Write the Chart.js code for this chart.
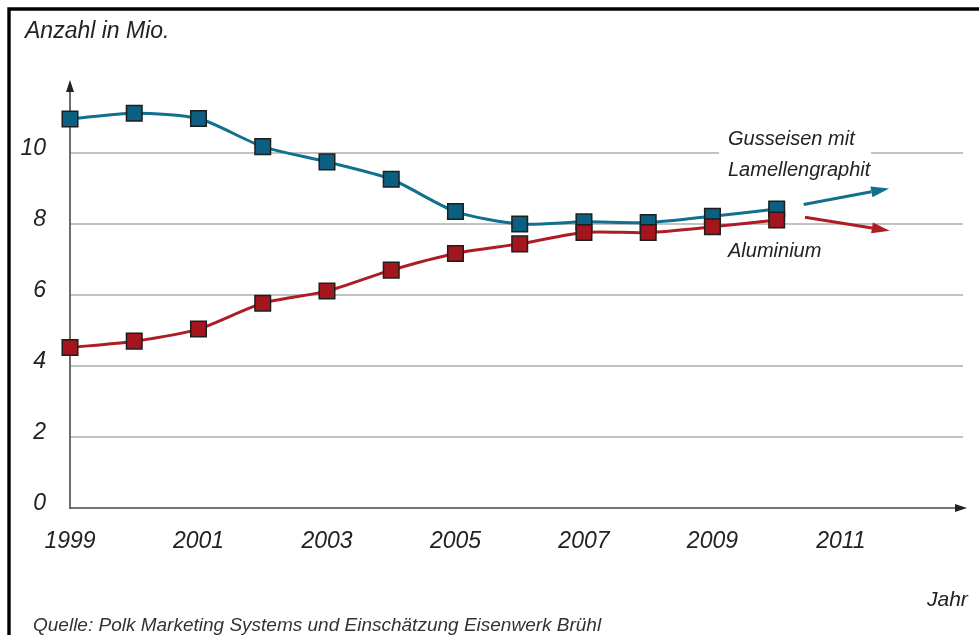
<!DOCTYPE html>
<html>
<head>
<meta charset="utf-8">
<script src="https://cdn.jsdelivr.net/npm/chart.js@4.4.1/dist/chart.umd.min.js"></script>
<style>
  html, body { margin: 0; padding: 0; background: #fff; }
  #wrap { width: 979px; height: 635px; position: relative; }
</style>
</head>
<body>
<div id="wrap"><canvas id="chart" width="979" height="635"></canvas></div>
<script>
  var years = [1999, 2000, 2001, 2002, 2003, 2004, 2005, 2006, 2007, 2008, 2009, 2010];
  var gusseisen = [10.96, 11.12, 10.97, 10.18, 9.75, 9.26, 8.35, 8.00, 8.06, 8.04, 8.22, 8.42];
  var aluminium = [4.52, 4.70, 5.04, 5.77, 6.11, 6.70, 7.17, 7.44, 7.76, 7.76, 7.92, 8.11];
  var xTicks = [1999, 2001, 2003, 2005, 2007, 2009, 2011];
  var yTicks = [0, 2, 4, 6, 8, 10];
  // trend arrows: [x0, y0, x1, y1] in data units
  var trendGusseisen = [2010.42, 8.55, 2011.75, 9.0];
  var trendAluminium = [2010.44, 8.19, 2011.76, 7.81];

  var FONT = '"Liberation Sans", Arial, sans-serif';
  var BLUE = '#12708f', BLUE_FILL = '#0b5f80';
  var RED = '#ad1d26', RED_FILL = '#a3161e';

  function toPoints(vals) {
    return vals.map(function (v, i) { return { x: years[i], y: v }; });
  }

  function arrow(ctx, chart, t, color) {
    var sx = chart.scales.x, sy = chart.scales.y;
    var x0 = sx.getPixelForValue(t[0]), y0 = sy.getPixelForValue(t[1]);
    var x1 = sx.getPixelForValue(t[2]), y1 = sy.getPixelForValue(t[3]);
    var a = Math.atan2(y1 - y0, x1 - x0);
    var len = 18, half = 5.5;
    var bx = x1 - len * Math.cos(a), by = y1 - len * Math.sin(a);
    ctx.strokeStyle = color; ctx.fillStyle = color; ctx.lineWidth = 3;
    ctx.beginPath(); ctx.moveTo(x0, y0); ctx.lineTo(bx, by); ctx.stroke();
    ctx.beginPath();
    ctx.moveTo(x1, y1);
    ctx.lineTo(bx + half * Math.sin(a), by - half * Math.cos(a));
    ctx.lineTo(bx - half * Math.sin(a), by + half * Math.cos(a));
    ctx.closePath(); ctx.fill();
  }

  var decor = {
    id: 'decor',
    beforeDraw: function (chart) {
      var ctx = chart.ctx;
      ctx.save();
      ctx.fillStyle = '#fff';
      ctx.fillRect(0, 0, chart.width, chart.height);
      ctx.strokeStyle = '#000'; ctx.lineWidth = 3.4;
      ctx.beginPath();
      ctx.moveTo(9, chart.height); ctx.lineTo(9, 9); ctx.lineTo(chart.width, 9);
      ctx.stroke();
      ctx.restore();
    },
    beforeDatasetsDraw: function (chart) {
      var ctx = chart.ctx, sx = chart.scales.x, sy = chart.scales.y;
      var ox = sx.getPixelForValue(1999), oy = sy.getPixelForValue(0);
      var top = sy.getPixelForValue(12) - 2, right = chart.chartArea.right + 4;
      ctx.save();
      // gap in the 10 gridline for the label
      ctx.fillStyle = '#fff';
      ctx.fillRect(719, sy.getPixelForValue(10) - 4, 152, 8);
      ctx.strokeStyle = '#4a4a4a'; ctx.fillStyle = '#222'; ctx.lineWidth = 1.6;
      ctx.beginPath();
      ctx.moveTo(ox, oy + 1); ctx.lineTo(ox, top + 10);
      ctx.moveTo(ox, oy); ctx.lineTo(right - 10, oy);
      ctx.stroke();
      ctx.beginPath();
      ctx.moveTo(ox, top); ctx.lineTo(ox - 4, top + 12); ctx.lineTo(ox + 4, top + 12); ctx.closePath();
      ctx.moveTo(right, oy); ctx.lineTo(right - 12, oy - 4); ctx.lineTo(right - 12, oy + 4); ctx.closePath();
      ctx.fill();
      ctx.restore();
    },
    afterDatasetsDraw: function (chart) {
      var ctx = chart.ctx;
      ctx.save();
      arrow(ctx, chart, trendGusseisen, BLUE);
      arrow(ctx, chart, trendAluminium, RED);
      ctx.fillStyle = '#222';
      ctx.textBaseline = 'alphabetic';
      ctx.textAlign = 'left';
      ctx.font = 'italic 20px ' + FONT;
      ctx.fillText('Gusseisen mit', 728, 145);
      ctx.fillText('Lamellengraphit', 728, 176);
      ctx.fillText('Aluminium', 728, 257);
      ctx.restore();
    },
    afterDraw: function (chart) {
      var ctx = chart.ctx;
      ctx.save();
      ctx.fillStyle = '#222';
      ctx.textBaseline = 'alphabetic';
      ctx.font = 'italic 23px ' + FONT;
      ctx.fillText('Anzahl in Mio.', 25, 38);
      ctx.font = 'italic 21px ' + FONT;
      ctx.fillText('Jahr', 927, 606);
      ctx.fillStyle = '#333';
      ctx.font = 'italic 19px ' + FONT;
      ctx.fillText('Quelle: Polk Marketing Systems und Einschätzung Eisenwerk Brühl', 33, 631);
      ctx.restore();
    }
  };

  var ptStyle = function (line, fill) {
    return {
      borderColor: line, borderWidth: 3,
      pointStyle: 'rect', pointRadius: 11, pointHoverRadius: 11,
      pointBackgroundColor: fill, pointBorderColor: '#1e1e1e', pointBorderWidth: 1.5,
      tension: 0.25, clip: false, fill: false
    };
  };

  var dsAlu = Object.assign({ label: 'Aluminium', data: toPoints(aluminium) }, ptStyle(RED, RED_FILL));
  var dsGuss = Object.assign({ label: 'Gusseisen mit Lamellengraphit', data: toPoints(gusseisen) }, ptStyle(BLUE, BLUE_FILL));

  new Chart(document.getElementById('chart').getContext('2d'), {
    type: 'line',
    data: { datasets: [dsAlu, dsGuss] },
    options: {
      responsive: false,
      animation: false,
      events: [],
      layout: { padding: { left: 0, top: 82, right: 16, bottom: 77 } },
      plugins: { legend: { display: false }, tooltip: { enabled: false } },
      scales: {
        x: {
          type: 'linear', min: 1999, max: 2012.9,
          afterBuildTicks: function (s) { s.ticks = xTicks.map(function (v) { return { value: v }; }); },
          afterFit: function (s) { s.height = 50; },
          grid: { display: false, drawTicks: false },
          border: { display: false },
          ticks: {
            padding: 20, color: '#222', autoSkip: false, maxRotation: 0,
            font: { family: FONT, size: 23, style: 'italic' },
            callback: function (v) { return String(v); }
          }
        },
        y: {
          min: 0, max: 12,
          afterBuildTicks: function (s) { s.ticks = yTicks.map(function (v) { return { value: v }; }); },
          afterFit: function (s) { s.width = 70; },
          grid: {
            drawTicks: false, lineWidth: 2,
            color: function (c) { return c.tick && c.tick.value === 0 ? 'rgba(0,0,0,0)' : '#c2c2c2'; }
          },
          border: { display: false },
          ticks: {
            padding: 24, labelOffset: -4, color: '#222',
            font: { family: FONT, size: 23, style: 'italic' }
          }
        }
      }
    },
    plugins: [decor]
  });
</script>
</body>
</html>
